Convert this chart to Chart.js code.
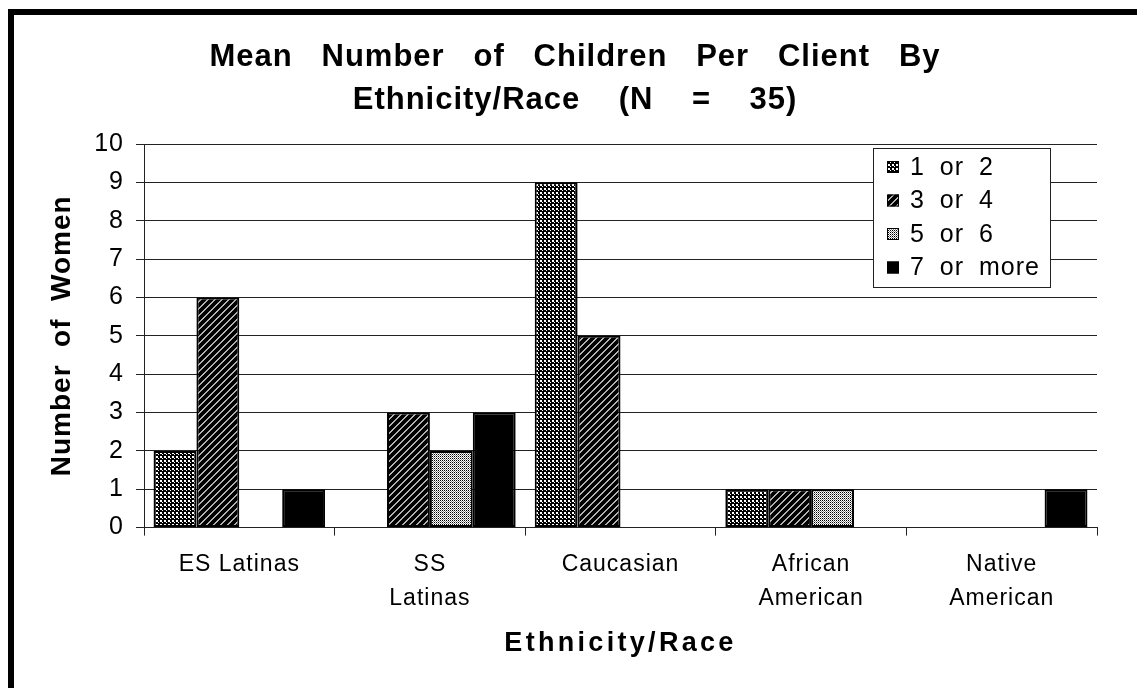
<!DOCTYPE html>
<html>
<head>
<meta charset="utf-8">
<script src="https://cdn.jsdelivr.net/npm/chart.js@4/dist/chart.umd.min.js"></script>
<style>
  html, body { margin: 0; padding: 0; background: #fff; }
  #wrap { position: relative; width: 1137px; height: 688px; overflow: hidden; }
  #frame { position: absolute; left: 8px; top: 9px; right: 0; bottom: 0;
           border-top: 6px solid #000; border-left: 6px solid #000; pointer-events: none; }
  canvas { position: absolute; left: 0; top: 0; }
</style>
</head>
<body>
<div id="wrap">
  <canvas id="grafica" width="1137" height="688"></canvas>
  <div id="frame"></div>
</div>
<script>
// datos
const categorias = ['ES Latinas', ['SS', 'Latinas'], 'Caucasian', ['African', 'American'], ['Native', 'American']];
const series = ['1 or 2', '3 or 4', '5 or 6', '7 or more'];
const hijos1o2 = [2, 0, 9, 1, 0];
const hijos3o4 = [6, 3, 5, 1, 0];
const hijos5o6 = [0, 2, 0, 1, 0];
const hijos7mas = [1, 3, 0, 0, 1];
const marcasY = [0, 1, 2, 3, 4, 5, 6, 7, 8, 9, 10];

// tramas en blanco y negro
function trama(tam, pintar) {
    const c = document.createElement('canvas');
    c.width = tam; c.height = tam;
    const g = c.getContext('2d');
    g.fillStyle = '#fff';
    g.fillRect(0, 0, tam, tam);
    pintar(g);
    return g.createPattern(c, 'repeat');
}

const cuadros = trama(4, g => {
    g.fillStyle = '#000';
    g.fillRect(0, 0, 4, 4);
    g.fillStyle = '#fff';
    g.fillRect(0, 0, 2, 2);
    g.fillRect(2, 2, 1, 1);
});

const rayas = trama(7, g => {
    g.strokeStyle = '#000';
    g.lineWidth = 4;
    g.beginPath();
    g.moveTo(-7, 7); g.lineTo(7, -7);
    g.moveTo(-3, 10); g.lineTo(10, -3);
    g.moveTo(0, 14); g.lineTo(14, 0);
    g.stroke();
});

const puntos = trama(2, g => {
    g.fillStyle = '#000';
    g.fillRect(0, 0, 1, 1);
    g.fillStyle = '#888';
    g.fillRect(1, 1, 1, 1);
});

const tramas = [cuadros, rayas, puntos, '#000'];
const valores = [hijos1o2, hijos3o4, hijos5o6, hijos7mas];

// espaciado de letras como en el original
const espaciado = {
    id: 'espaciado',
    beforeDraw(chart) {
        chart.ctx.letterSpacing = '1px';
        const sx = chart.scales.x;
        if (sx && !sx._espaciado) {
            const dibujar = sx.drawTitle;
            sx.drawTitle = function () {
                this.ctx.letterSpacing = '3.3px';
                dibujar.call(this);
                this.ctx.letterSpacing = '1px';
            };
            sx._espaciado = true;
        }
    }
};

// leyenda en recuadro dentro del area del grafico
const leyendaCaja = {
    id: 'leyendaCaja',
    afterDraw(chart) {
        const { ctx, chartArea } = chart;
        const x = chartArea.right - 224;
        const y = chartArea.top + 4;
        const w = 177, h = 139;
        ctx.save();
        ctx.fillStyle = '#fff';
        ctx.fillRect(x, y, w, h);
        ctx.strokeStyle = '#222';
        ctx.lineWidth = 1;
        ctx.strokeRect(x + 0.5, y + 0.5, w, h);
        ctx.font = '25px "Liberation Sans", Arial, sans-serif';
        ctx.textBaseline = 'middle';
        ctx.letterSpacing = '1px';
        ctx.wordSpacing = '7px';
        chart.data.datasets.forEach((ds, i) => {
            const cy = y + 19 + i * 33.5;
            ctx.fillStyle = ds.backgroundColor;
            ctx.fillRect(x + 14, cy - 6, 12, 12);
            ctx.strokeStyle = '#000';
            ctx.strokeRect(x + 14.5, cy - 5.5, 11, 11);
            ctx.fillStyle = '#000';
            ctx.fillText(ds.label, x + 37, cy + 1);
        });
        ctx.restore();
    }
};

Chart.defaults.font.family = '"Liberation Sans", Arial, sans-serif';
Chart.defaults.color = '#000';

const ctx = document.getElementById('grafica').getContext('2d');

new Chart(ctx, {
    type: 'bar',
    data: {
        labels: categorias,
        datasets: series.map((nombre, i) => ({
            label: nombre,
            data: valores[i],
            backgroundColor: tramas[i],
            borderColor: '#000',
            borderWidth: 2,
            borderSkipped: false,
            categoryPercentage: 0.9,
            barPercentage: 1.0
        }))
    },
    options: {
        responsive: false,
        animation: false,
        layout: { padding: { top: 14, left: 53, right: 40, bottom: 10 } },
        plugins: {
            legend: { display: false },
            tooltip: { enabled: false },
            title: {
                display: true,
                text: ['Mean   Number   of   Children   Per   Client   By', 'Ethnicity/Race    (N    =    35)'],
                font: { size: 31, weight: 'bold', lineHeight: 43 / 31 },
                color: '#000',
                padding: { top: 21.5, bottom: 22.5 }
            }
        },
        scales: {
            x: {
                grid: {
                    display: true,
                    drawOnChartArea: false,
                    drawTicks: true,
                    tickLength: 8,
                    color: '#222',
                    offset: true
                },
                border: { display: true, color: '#222' },
                ticks: {
                    font: { size: 23, lineHeight: 34 / 23 },
                    padding: 12,
                    maxRotation: 0,
                    autoSkip: false
                },
                title: {
                    display: true,
                    text: 'Ethnicity/Race',
                    font: { size: 27, weight: 'bold', lineHeight: 1.2 },
                    padding: { top: 0, bottom: 18 }
                }
            },
            y: {
                min: 0,
                max: 10,
                afterFit(scale) { scale.width = 91; },
                afterBuildTicks(scale) { scale.ticks = marcasY.map(v => ({ value: v })); },
                grid: {
                    color: '#222',
                    tickLength: 8,
                    lineWidth: 1
                },
                border: { display: true, color: '#222' },
                ticks: {
                    font: { size: 25 },
                    padding: 12
                },
                title: {
                    display: true,
                    text: 'Number  of  Women',
                    font: { size: 28, weight: 'bold', lineHeight: 1.2 },
                    padding: { top: -7.8, bottom: 0 }
                }
            }
        }
    },
    plugins: [espaciado, leyendaCaja]
});
</script>
</body>
</html>
